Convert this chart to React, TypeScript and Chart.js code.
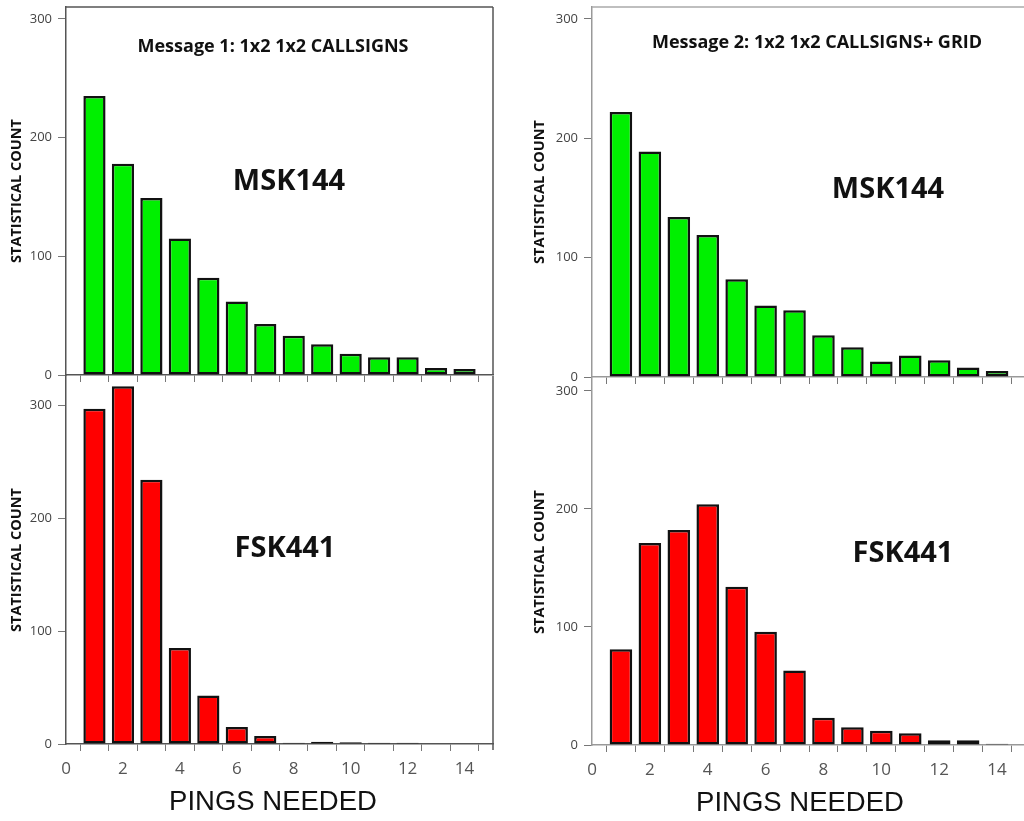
import React, { useEffect, useRef } from "react";
import { Chart, registerables } from "chart.js";

Chart.register(...registerables);

// ---------- data ----------
const PINGS = [1, 2, 3, 4, 5, 6, 7, 8, 9, 10, 11, 12, 13, 14];
const X_TICKS = [0, 1, 2, 3, 4, 5, 6, 7, 8, 9, 10, 11, 12, 13, 14, 15];
const Y_TICKS = [0, 100, 200, 300];

const MSG1_MSK144 = [235, 178, 149, 115, 82, 62, 43, 33, 26, 18, 15, 15, 6, 5];
const MSG1_FSK441 = [297, 317, 234, 85, 43, 15, 7, 1.2, 2, 1.6, 1, 1, 0, 0];
const MSG2_MSK144 = [222, 189, 134, 119, 82, 60, 56, 35, 25, 13, 18, 14, 8, 5];
const MSG2_FSK441 = [81, 171, 182, 204, 134, 96, 63, 23, 15, 12, 10, 4, 4, 1];

const TITLE_1 = "Message 1: 1x2 1x2 CALLSIGNS";
const TITLE_2 = "Message 2: 1x2 1x2 CALLSIGNS+ GRID";
const MODE_MSK = "MSK144";
const MODE_FSK = "FSK441";
const Y_TITLE = "STATISTICAL COUNT";
const X_TITLE = "PINGS NEEDED";

// ---------- styling / layout ----------
const GREEN = "#00f000";
const RED = "#ff0000";
const PAD_TOP = 20;
const PAD_RIGHT = 12;

const FONT_SUB = "bold 18px 'Open Sans'";
const FONT_MODE = "bold 29px 'Open Sans'";
const FONT_XTITLE = "27.5px 'Liberation Sans'";

type TextItem = { text: string; font: string; color: string; dx: number; dy: number };

type Panel = {
  key: string;
  values: number[];
  color: string;
  yMax: number;
  L: number;
  T: number;
  R: number;
  B: number;
  yw: number;
  xh: number;
  showXLabels: boolean;
  axisColor: string;
  frameColor: string;
  frameTop: boolean;
  frameRight: boolean;
  frameRightExtra: number;
  titlePad: number;
  texts: TextItem[];
};

const PANELS: Panel[] = [
  {
    key: "tl",
    values: MSG1_MSK144,
    color: GREEN,
    yMax: 310,
    L: 66, T: 7, R: 493, B: 375,
    yw: 66, xh: 17,
    showXLabels: false,
    axisColor: "#555",
    frameColor: "#555",
    frameTop: true,
    frameRight: true,
    frameRightExtra: 0,
    titlePad: 8.3,
    texts: [
      { text: TITLE_1, font: FONT_SUB, color: "#111", dx: 207, dy: 40 },
      { text: MODE_MSK, font: FONT_MODE, color: "#111", dx: 223, dy: 175 },
    ],
  },
  {
    key: "tr",
    values: MSG2_MSK144,
    color: GREEN,
    yMax: 310,
    L: 592, T: 7, R: 1026, B: 377,
    yw: 72, xh: 17,
    showXLabels: false,
    axisColor: "#999",
    frameColor: "#aaa",
    frameTop: true,
    frameRight: false,
    frameRightExtra: 0,
    titlePad: 11.3,
    texts: [
      { text: TITLE_2, font: FONT_SUB, color: "#111", dx: 225, dy: 36 },
      { text: MODE_MSK, font: FONT_MODE, color: "#111", dx: 296, dy: 183 },
    ],
  },
  {
    key: "bl",
    values: MSG1_FSK441,
    color: RED,
    yMax: 326,
    L: 66, T: 376, R: 493, B: 744,
    yw: 66, xh: 77,
    showXLabels: true,
    axisColor: "#555",
    frameColor: "#555",
    frameTop: false,
    frameRight: true,
    frameRightExtra: 6,
    titlePad: 8.3,
    texts: [
      { text: MODE_FSK, font: FONT_MODE, color: "#111", dx: 219, dy: 173 },
      { text: X_TITLE, font: FONT_XTITLE, color: "#111", dx: 207, dy: 426 },
    ],
  },
  {
    key: "br",
    values: MSG2_FSK441,
    color: RED,
    yMax: 310,
    L: 592, T: 379, R: 1026, B: 745,
    yw: 72, xh: 76,
    showXLabels: true,
    axisColor: "#999",
    frameColor: "#aaa",
    frameTop: false,
    frameRight: false,
    frameRightExtra: 0,
    titlePad: 11.3,
    texts: [
      { text: MODE_FSK, font: FONT_MODE, color: "#111", dx: 311, dy: 175 },
      { text: X_TITLE, font: FONT_XTITLE, color: "#111", dx: 208, dy: 424 },
    ],
  },
];

function makeDecor(p: Panel) {
  return {
    id: "decor_" + p.key,
    afterDraw(chart: any) {
      const { ctx, chartArea: a } = chart;
      ctx.save();
      ctx.strokeStyle = p.frameColor;
      ctx.lineWidth = 1.5;
      if (p.frameTop) {
        ctx.beginPath();
        ctx.moveTo(a.left, a.top);
        ctx.lineTo(a.right, a.top);
        ctx.stroke();
      }
      if (p.frameRight) {
        ctx.beginPath();
        ctx.moveTo(a.right, a.top);
        ctx.lineTo(a.right, a.bottom + p.frameRightExtra);
        ctx.stroke();
      }
      ctx.textAlign = "center";
      ctx.textBaseline = "middle";
      for (const t of p.texts) {
        ctx.font = t.font;
        ctx.fillStyle = t.color;
        ctx.fillText(t.text, a.left + t.dx, a.top + t.dy);
      }
      ctx.restore();
    },
  };
}

function PanelChart({ p }: { p: Panel }) {
  const ref = useRef<HTMLCanvasElement | null>(null);
  const left = p.L - p.yw;
  const top = p.T - PAD_TOP;
  const width = p.R + PAD_RIGHT - left;
  const height = p.B + p.xh - top;

  useEffect(() => {
    if (!ref.current) return;
    const chart = new Chart(ref.current, {
      type: "bar",
      data: {
        datasets: [
          {
            data: PINGS.map((x, i) => ({ x, y: p.values[i] })),
            backgroundColor: p.color,
            borderColor: "#111",
            borderWidth: 2.5,
            borderSkipped: false,
            categoryPercentage: 1,
            barPercentage: 0.78,
          } as any,
        ],
      },
      options: {
        responsive: false,
        animation: false,
        devicePixelRatio: 1,
        layout: { padding: { top: PAD_TOP, right: PAD_RIGHT, left: 0, bottom: 0 } },
        plugins: {
          legend: { display: false },
          tooltip: { enabled: false },
          title: { display: false },
        },
        scales: {
          x: {
            type: "linear",
            min: 0,
            max: 15,
            offset: false,
            afterBuildTicks: (s: any) => {
              s.ticks = X_TICKS.map((v) => ({ value: v }));
            },
            afterFit: (s: any) => {
              s.height = p.xh;
            },
            grid: {
              display: true,
              drawOnChartArea: false,
              drawTicks: true,
              tickLength: 7,
              color: "#777",
              lineWidth: 1,
            },
            border: { display: true, color: p.axisColor, width: 1.5 },
            ticks: {
              display: p.showXLabels,
              autoSkip: false,
              maxRotation: 0,
              padding: 8,
              color: "#555",
              font: { family: "'Open Sans'", size: 17 },
              callback: (v: any) => (v % 2 === 0 && v <= 14 ? String(v) : ""),
            },
          },
          y: {
            type: "linear",
            min: 0,
            max: p.yMax,
            afterBuildTicks: (s: any) => {
              s.ticks = Y_TICKS.map((v) => ({ value: v }));
            },
            afterFit: (s: any) => {
              s.width = p.yw;
            },
            grid: {
              display: true,
              drawOnChartArea: false,
              drawTicks: true,
              tickLength: 8,
              color: "#777",
              lineWidth: 1,
            },
            border: { display: true, color: p.axisColor, width: 1.5 },
            ticks: {
              padding: 6,
              color: "#444",
              font: { family: "'Open Sans'", size: 13 },
            },
            title: {
              display: true,
              text: Y_TITLE,
              color: "#111",
              font: { family: "'Open Sans'", size: 14.5, weight: "bold" },
              padding: { top: p.titlePad, bottom: 0 },
            },
          },
        },
      } as any,
      plugins: [makeDecor(p)],
    });
    return () => chart.destroy();
  }, [p]);

  return (
    <canvas
      ref={ref}
      width={width}
      height={height}
      style={{ position: "absolute", left, top, width, height, display: "block" }}
    />
  );
}

export default function App() {
  return (
    <div
      style={{
        position: "absolute",
        left: 0,
        top: 0,
        width: 1024,
        height: 821,
        overflow: "hidden",
        background: "#fff",
      }}
    >
      {PANELS.map((p) => (
        <PanelChart key={p.key} p={p} />
      ))}
    </div>
  );
}
